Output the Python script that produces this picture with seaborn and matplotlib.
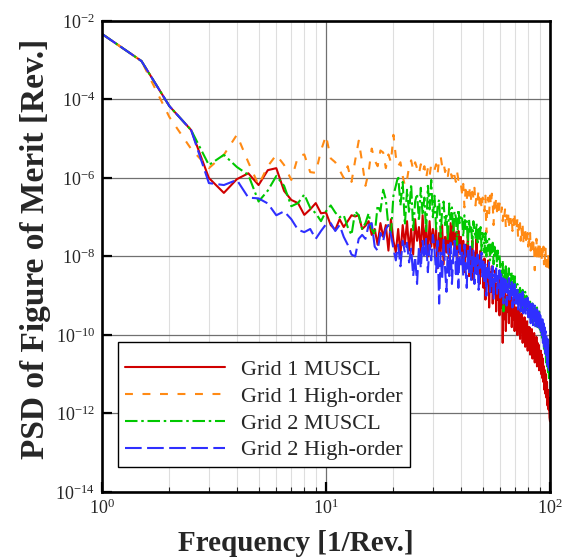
import numpy as np
import pandas as pd
import matplotlib
matplotlib.use("Agg")
import matplotlib.pyplot as plt
import seaborn as sns
from matplotlib.ticker import FixedLocator, NullLocator, LogLocator, LogFormatterMathtext

# Frequency bins [1/Rev.]
freq = [1.0, 1.5, 2.0, 2.5, 3.0, 3.5, 4.0, 4.5, 5.0, 5.5, 6.0, 6.5, 7.0, 7.5, 8.0, 8.5, 9.0, 9.5, 10.0,
        10.5, 11.0, 11.5, 12.0, 12.5, 13.0, 13.5, 14.0, 14.5, 15.0, 15.5, 16.0, 16.5, 17.0, 17.5, 18.0, 18.5, 19.0, 19.5, 20.0,
        20.5, 21.0, 21.5, 22.0, 22.5, 23.0, 23.5, 24.0, 24.5, 25.0, 25.5, 26.0, 26.5, 27.0, 27.5, 28.0, 28.5, 29.0, 29.5, 30.0,
        30.5, 31.0, 31.5, 32.0, 32.5, 33.0, 33.5, 34.0, 34.5, 35.0, 35.5, 36.0, 36.5, 37.0, 37.5, 38.0, 38.5, 39.0, 39.5, 40.0,
        40.5, 41.0, 41.5, 42.0, 42.5, 43.0, 43.5, 44.0, 44.5, 45.0, 45.5, 46.0, 46.5, 47.0, 47.5, 48.0, 48.5, 49.0, 49.5, 50.0,
        50.5, 51.0, 51.5, 52.0, 52.5, 53.0, 53.5, 54.0, 54.5, 55.0, 55.5, 56.0, 56.5, 57.0, 57.5, 58.0, 58.5, 59.0, 59.5, 60.0,
        60.5, 61.0, 61.5, 62.0, 62.5, 63.0, 63.5, 64.0, 64.5, 65.0, 65.5, 66.0, 66.5, 67.0, 67.5, 68.0, 68.5, 69.0, 69.5, 70.0,
        70.5, 71.0, 71.5, 72.0, 72.5, 73.0, 73.5, 74.0, 74.5, 75.0, 75.5, 76.0, 76.5, 77.0, 77.5, 78.0, 78.5, 79.0, 79.5, 80.0,
        80.5, 81.0, 81.5, 82.0, 82.5, 83.0, 83.5, 84.0, 84.5, 85.0, 85.5, 86.0, 86.5, 87.0, 87.5, 88.0, 88.5, 89.0, 89.5, 90.0,
        90.5, 91.0, 91.5, 92.0, 92.5, 93.0, 93.5, 94.0, 94.5, 95.0, 95.5, 96.0, 96.5, 97.0, 97.5, 98.0, 98.5, 99.0, 99.5, 100.0]

# log10 of PSD
g1_muscl_log = [-2.33, -3.02, -4.17, -4.78, -6.00, -6.38, -6.03, -5.88, -6.18, -5.80, -5.75, -6.33, -6.56, -6.64, -6.94, -6.80, -6.64, -6.90, -6.88,
    -7.20, -7.32, -7.05, -7.25, -7.10, -6.95, -6.98, -6.95, -7.30, -7.22, -7.10, -7.45, -7.30, -7.70, -7.15, -7.50, -7.20, -7.85, -7.05, -7.60,
    -7.90, -7.30, -7.95, -7.20, -7.70, -7.10, -7.85, -7.30, -7.95, -7.05, -7.60, -7.25, -7.90, -6.95, -7.70, -7.20, -8.00, -7.10, -7.75, -7.30,
    -7.80, -7.25, -8.30, -7.40, -7.90, -7.20, -8.20, -7.50, -7.90, -7.30, -8.05, -7.15, -7.70, -7.05, -7.95, -7.40, -8.20, -7.35, -7.90, -7.50,
    -8.20, -7.60, -8.40, -7.70, -8.00, -7.45, -8.50, -7.80, -8.30, -7.60, -8.60, -7.90, -8.10, -7.55, -8.45, -8.00, -8.70, -7.85, -8.40, -8.10,
    -8.80, -8.05, -9.10, -8.30, -8.70, -8.10, -9.30, -8.40, -8.90, -8.25, -9.20, -8.60, -8.90, -8.35, -9.40, -8.70, -9.10, -8.50, -9.50, -8.80,
    -9.30, -8.70, -10.20, -8.90, -9.60, -8.80, -9.90, -9.00, -9.40, -8.85, -9.70, -9.10, -9.50, -8.95, -9.80, -9.20, -9.60, -9.05, -9.90, -9.30,
    -9.70, -9.30, -10.00, -9.40, -9.80, -9.35, -10.10, -9.50, -9.90, -9.45, -10.20, -9.60, -9.95, -9.55, -10.30, -9.70, -10.10, -9.65, -10.40, -9.80,
    -10.20, -9.80, -10.50, -9.90, -10.30, -9.85, -10.60, -10.00, -10.40, -9.95, -10.70, -10.10, -10.50, -10.05, -10.80, -10.20, -10.60, -10.25, -10.90, -10.40,
    -10.80, -10.40, -11.00, -10.50, -11.10, -10.60, -11.20, -10.80, -11.40, -10.90, -11.50, -11.00, -11.60, -11.20, -11.80, -11.40, -11.90, -11.60, -12.10, -12.20]

g1_high_log = [-2.33, -3.02, -4.45, -5.26, -5.75, -5.41, -4.90, -5.60, -6.18, -5.70, -5.41, -5.67, -6.05, -5.45, -5.40, -5.85, -5.87, -5.30, -4.92,
    -5.50, -5.60, -5.80, -6.00, -5.70, -6.10, -5.55, -5.05, -5.60, -6.20, -5.85, -5.25, -5.55, -5.70, -5.30, -5.35, -5.75, -5.40, -5.60, -4.90,
    -5.45, -5.70, -5.60, -5.95, -6.20, -6.05, -5.70, -5.55, -5.80, -5.60, -5.75, -5.90, -5.65, -5.85, -5.70, -6.00, -5.75, -5.95, -5.65, -5.72,
    -5.80, -5.65, -5.90, -5.50, -5.45, -5.70, -5.60, -5.85, -5.75, -5.95, -5.70, -5.85, -6.00, -5.80, -5.95, -6.10, -5.85, -6.05, -6.00, -6.15,
    -6.40, -6.15, -6.75, -6.30, -6.55, -6.25, -6.45, -6.20, -6.60, -6.35, -6.50, -6.25, -6.70, -6.40, -6.55, -6.30, -6.65, -6.45, -6.80, -6.50,
    -6.55, -6.85, -6.45, -7.40, -6.60, -6.50, -6.90, -6.45, -6.70, -6.40, -6.65, -7.20, -6.55, -6.75, -6.50, -6.85, -6.60, -6.95, -6.65, -6.80,
    -6.90, -6.75, -7.10, -6.85, -7.00, -6.80, -7.25, -6.95, -7.05, -6.85, -7.30, -7.00, -6.90, -7.15, -7.00, -7.35, -7.05, -7.20, -6.95, -7.30,
    -7.10, -7.35, -7.05, -7.50, -7.20, -7.40, -7.15, -7.60, -7.25, -7.45, -7.20, -7.65, -7.30, -7.50, -7.25, -7.70, -7.35, -7.55, -7.40, -7.75,
    -7.45, -7.70, -7.40, -7.85, -7.55, -7.75, -7.50, -7.95, -7.60, -7.80, -8.35, -7.65, -7.90, -7.55, -8.00, -7.70, -7.85, -7.65, -8.05, -7.75,
    -7.80, -8.05, -7.70, -8.15, -7.85, -8.00, -7.75, -8.20, -7.90, -8.10, -7.80, -8.25, -7.95, -8.05, -8.40, -7.90, -8.15, -8.00, -8.30, -8.10]

g2_muscl_log = [-2.33, -3.02, -4.17, -4.78, -5.67, -5.41, -5.72, -5.92, -6.60, -6.32, -5.95, -6.20, -6.72, -6.64, -6.42, -6.76, -6.90, -7.10, -6.85,
    -6.70, -6.88, -7.00, -6.95, -7.25, -7.45, -6.85, -6.95, -7.30, -7.15, -6.90, -7.30, -7.45, -6.70, -6.85, -6.30, -6.55, -7.25, -7.40, -6.45,
    -6.20, -5.95, -6.70, -6.10, -7.20, -6.30, -6.90, -6.15, -7.35, -6.60, -6.40, -7.10, -6.25, -6.95, -6.50, -7.40, -6.20, -6.80, -6.05, -7.00,
    -6.45, -7.30, -6.70, -6.55, -7.50, -6.80, -6.60, -7.20, -6.90, -7.60, -6.65, -7.05, -6.75, -7.40, -6.85, -7.00, -7.70, -6.80, -7.15, -6.95,
    -7.00, -7.50, -6.95, -7.30, -7.10, -7.70, -7.05, -7.40, -7.20, -7.80, -7.10, -7.35, -7.55, -7.15, -7.70, -7.30, -7.60, -7.25, -7.85, -7.40,
    -7.50, -7.90, -7.40, -8.00, -7.60, -7.85, -7.55, -8.10, -7.70, -7.95, -7.65, -8.20, -7.75, -8.00, -7.80, -8.25, -7.85, -8.05, -7.95, -8.30,
    -8.20, -8.50, -8.10, -9.40, -8.35, -8.60, -8.25, -8.75, -8.40, -8.55, -8.30, -8.80, -8.45, -8.65, -8.40, -8.90, -8.50, -8.70, -8.45, -8.85,
    -8.75, -9.00, -8.70, -9.20, -8.85, -9.05, -8.80, -9.30, -8.90, -9.10, -8.85, -9.35, -8.95, -9.15, -8.90, -9.40, -9.00, -9.20, -9.05, -9.45,
    -9.20, -9.45, -9.15, -9.60, -9.25, -9.50, -9.20, -9.70, -9.30, -9.55, -9.25, -9.75, -9.35, -9.60, -9.30, -9.80, -9.45, -9.65, -9.40, -9.85,
    -9.60, -9.95, -9.70, -10.10, -9.80, -10.20, -9.90, -10.35, -10.00, -10.50, -10.15, -10.70, -10.30, -10.85, -10.45, -11.00, -10.60, -11.10, -10.70, -10.90]

g2_high_log = [-2.33, -3.02, -4.17, -4.78, -6.13, -6.18, -6.05, -6.50, -6.52, -6.65, -6.95, -6.85, -7.05, -7.32, -7.38, -7.30, -7.55, -7.35, -7.18,
    -7.15, -7.35, -7.20, -7.50, -7.70, -7.95, -8.00, -7.55, -7.45, -7.55, -7.20, -7.15, -7.75, -7.85, -7.40, -7.60, -7.30, -7.20, -7.45, -7.80,
    -8.10, -7.70, -8.25, -7.60, -7.90, -7.65, -8.15, -7.80, -8.50, -8.00, -8.70, -7.75, -8.30, -7.60, -8.05, -7.55, -8.40, -7.70, -8.10, -7.45,
    -7.80, -8.40, -7.60, -9.20, -7.90, -8.60, -7.55, -8.30, -8.90, -7.70, -8.50, -7.65, -8.70, -8.00, -7.60, -8.45, -7.85, -8.80, -7.70, -8.20,
    -7.90, -8.50, -7.70, -8.30, -8.80, -7.80, -8.40, -7.75, -8.60, -8.05, -7.85, -8.70, -8.00, -8.45, -7.95, -8.85, -8.10, -8.35, -7.90, -8.60,
    -8.10, -8.70, -8.20, -9.00, -8.30, -8.60, -8.15, -8.90, -8.40, -8.75, -8.25, -9.10, -8.45, -8.65, -8.30, -8.95, -8.50, -8.80, -8.35, -9.05,
    -8.45, -9.00, -8.55, -9.20, -8.50, -8.90, -8.60, -9.25, -8.70, -8.95, -8.55, -9.10, -8.75, -9.00, -8.65, -9.30, -8.80, -9.05, -8.70, -9.20,
    -8.80, -9.20, -8.85, -9.35, -8.90, -9.15, -8.95, -9.40, -9.00, -9.25, -8.90, -9.45, -9.05, -9.30, -9.00, -9.50, -9.10, -9.35, -9.05, -9.55,
    -9.15, -9.55, -9.20, -9.70, -9.25, -9.50, -9.20, -9.75, -9.30, -9.60, -9.25, -9.80, -9.35, -9.65, -9.30, -9.85, -9.40, -9.70, -9.35, -9.90,
    -9.50, -9.90, -9.55, -10.05, -9.60, -10.20, -9.70, -10.30, -9.80, -10.45, -9.90, -10.60, -10.00, -10.75, -10.10, -10.85, -10.20, -10.90, -10.35, -10.60]

case_labels = ["Grid 1 MUSCL", "Grid 1 High-order", "Grid 2 MUSCL", "Grid 2 High-order"]
series_log = [g1_muscl_log, g1_high_log, g2_muscl_log, g2_high_log]

df = pd.concat(
    [pd.DataFrame({"freq": freq, "psd": 10.0 ** np.array(s), "case": lab})
     for s, lab in zip(series_log, case_labels)],
    ignore_index=True)

sns.set_theme(style="white")
plt.rcParams['font.family'] = ['Liberation Serif', 'DejaVu Serif']
plt.rcParams['mathtext.fontset'] = 'stix'

palette = {"Grid 1 MUSCL": "#d00000", "Grid 1 High-order": "#ff8a14",
           "Grid 2 MUSCL": "#00c800", "Grid 2 High-order": "#2f2fff"}
dashes = {"Grid 1 MUSCL": "", "Grid 1 High-order": (3.8, 4.6),
          "Grid 2 MUSCL": (6.0, 1.8, 1.2, 1.8), "Grid 2 High-order": (8.0, 2.6)}

fig = plt.figure(figsize=(5.75, 5.58), dpi=100)
ax = fig.add_axes([0.1774, 0.1183, 0.7791, 0.8441])

sns.lineplot(data=df, x="freq", y="psd", hue="case", style="case",
             hue_order=case_labels, style_order=case_labels,
             palette=palette, dashes=dashes, estimator=None, sort=False,
             lw=1.5, ax=ax)

ax.set_xscale('log')
ax.set_yscale('log')
ax.set_xlim(1, 100)
ax.set_ylim(1e-14, 1e-2)

ax.yaxis.set_major_locator(FixedLocator([1e-14, 1e-12, 1e-10, 1e-8, 1e-6, 1e-4, 1e-2]))
ax.yaxis.set_minor_locator(NullLocator())
ax.yaxis.set_major_formatter(LogFormatterMathtext())
ax.xaxis.set_major_locator(FixedLocator([1, 10, 100]))
ax.xaxis.set_minor_locator(LogLocator(base=10, subs=np.arange(2, 10)))
ax.xaxis.set_major_formatter(LogFormatterMathtext())

ax.set_axisbelow(True)
ax.grid(which='major', color='#707070', lw=0.9)
ax.grid(which='minor', axis='x', color='#dedede', lw=0.8)

ax.tick_params(which='major', direction='in', length=7, width=1.6, labelsize=13,
               pad=5, color='black', left=True, bottom=True)
ax.tick_params(which='minor', direction='in', length=3.5, width=0.8, bottom=True)
for sp in ax.spines.values():
    sp.set_color('black')
    sp.set_linewidth(1.9)

ax.set_xlabel("Frequency [1/Rev.]", fontsize=21, fontweight='bold')
ax.xaxis.set_label_coords(0.433, -0.080)
ax.set_ylabel("PSD of Figure of Merit [Rev.]", fontsize=24, fontweight='bold')
ax.yaxis.set_label_coords(-0.114, 0.516)

handles, labels = ax.get_legend_handles_labels()
pairs = [(h, l) for h, l in zip(handles, labels) if l in case_labels]
leg = ax.legend([p[0] for p in pairs], [p[1] for p in pairs],
                loc='lower left', bbox_to_anchor=(0.036, 0.053),
                title=" ", title_fontsize=4,
                fontsize=16, frameon=True, fancybox=False, shadow=False,
                edgecolor='black', framealpha=1, handlelength=4.5,
                handletextpad=0.75, labelspacing=0.28, borderpad=0.3,
                borderaxespad=0)
leg.get_frame().set_linewidth(1.0)
for h in leg.get_lines():
    h.set_linewidth(1.5)

fig.savefig("out.png", dpi=100)
